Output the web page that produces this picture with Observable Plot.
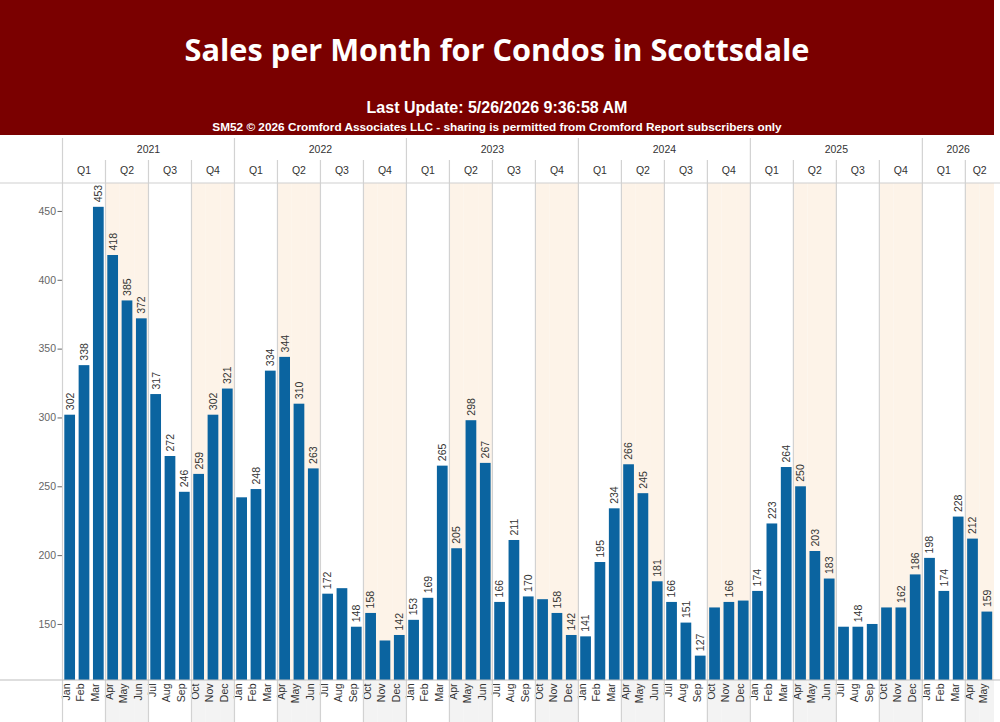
<!DOCTYPE html>
<html>
<head>
<meta charset="utf-8">
<script src="https://cdn.jsdelivr.net/npm/d3@7"></script>
<script src="https://cdn.jsdelivr.net/npm/@observablehq/plot@0.6"></script>
<style>
  body { margin: 0; background: #fff; width: 1000px; height: 722px; overflow: hidden; }
  #header { position: relative; width: 994px; height: 135px; background: #7a0000; color: #fff; }
  #header div { position: absolute; left: 0; width: 994px; text-align: center; white-space: nowrap; line-height: 1; }
  #header .title { top: 28px; font: 700 30.7px "Open Sans", "Liberation Sans", sans-serif; }
  #header .update { top: 99px; font: 700 16px "Liberation Sans", Arial, sans-serif; }
  #header .credit { top: 120px; font: 700 11.8px "Liberation Sans", Arial, sans-serif; }
  #chart svg { display: block; }
</style>
</head>
<body>
<div id="header">
  <div class="title">Sales per Month for Condos in Scottsdale</div>
  <div class="update">Last Update: 5/26/2026 9:36:58 AM</div>
  <div class="credit">SM52 © 2026 Cromford Associates LLC - sharing is permitted from Cromford Report subscribers only</div>
</div>
<div id="chart"></div>
<script>
// Monthly condo sales, Scottsdale
const years = [2021, 2022, 2023, 2024, 2025, 2026];
const monthNames = ["Jan", "Feb", "Mar", "Apr", "May", "Jun", "Jul", "Aug", "Sep", "Oct", "Nov", "Dec"];
const sales2021 = [302, 338, 453, 418, 385, 372, 317, 272, 246, 259, 302, 321];
const sales2022 = [242, 248, 334, 344, 310, 263, 172, 176, 148, 158, 138, 142];
const sales2023 = [153, 169, 265, 205, 298, 267, 166, 211, 170, 168, 158, 142];
const sales2024 = [141, 195, 234, 266, 245, 181, 166, 151, 127, 162, 166, 167];
const sales2025 = [174, 223, 264, 250, 203, 183, 148, 148, 150, 162, 162, 186];
const sales2026 = [198, 174, 228, 212, 159];
// months whose value is not printed above the bar
const unlabeledMonths = ["2022-Jan", "2022-Aug", "2022-Nov", "2023-Oct", "2024-Oct", "2024-Dec", "2025-Jul", "2025-Sep", "2025-Oct"];
const yTicks = [150, 200, 250, 300, 350, 400, 450];
const yMin = 109.3, yMax = 470.3;

const salesByYear = [sales2021, sales2022, sales2023, sales2024, sales2025, sales2026];
const rows = [];
years.forEach((year, yi) => {
  salesByYear[yi].forEach((value, mi) => {
    const key = `${year}-${monthNames[mi]}`;
    rows.push({
      key, year, mi,
      month: monthNames[mi],
      quarter: Math.floor(mi / 3) + 1,
      value,
      labeled: !unlabeledMonths.includes(key)
    });
  });
});

const font = '"Liberation Sans", Arial, sans-serif';
const fs = 10.5;
const barColor = "#0b64a0";
const shadeTop = "#fdf3e8";
const shadeBottom = "#f3f3f3";
const gridColor = "#d2d2d2";

const W = 1000, H = 587, mTop = 48, mBottom = 42;

const chart = Plot.plot({
  width: W,
  height: H,
  marginTop: mTop,
  marginRight: 6,
  marginBottom: mBottom,
  marginLeft: 62.5,
  x: { type: "band", domain: rows.map(d => d.key), padding: 0, round: false, axis: null },
  y: { domain: [yMin, yMax], axis: null },
  style: { fontFamily: font, fontSize: `${fs}px`, color: "#333", background: "transparent", overflow: "visible" },
  marks: [
    // Q2 and Q4 columns shaded
    Plot.cell(rows.filter(d => d.quarter % 2 === 0), { x: "key", fill: shadeTop, inset: 0 }),
    Plot.barY(rows, { x: "key", y1: yMin, y2: "value", fill: barColor, insetLeft: 1.8, insetRight: 1.8 }),
    Plot.axisY({ ticks: yTicks, tickSize: 5, tickPadding: 2, color: "#666", fontSize: fs, label: null }),
    Plot.text(rows.filter(d => d.labeled), {
      x: "key", y: "value", text: d => String(d.value),
      rotate: -90, textAnchor: "start", dy: -5, fill: "#333", fontSize: fs
    }),
    Plot.text(rows, {
      x: "key", text: "month", frameAnchor: "bottom",
      rotate: -90, textAnchor: "end", dy: 3, fill: "#333", fontSize: fs
    })
  ]
});

document.getElementById("chart").append(chart);

// Year / quarter header, grid dividers and footer shading, placed with the x scale
const xs = chart.scale("x");
const bw = xs.bandwidth;
const xl = k => xs.apply(k);
const svg = d3.select(chart);
const plotBottom = H - mBottom;

const under = svg.insert("g", "g");
under.selectAll("rect")
  .data(rows.filter(d => d.quarter % 2 === 0))
  .join("rect")
  .attr("x", d => xl(d.key))
  .attr("y", plotBottom)
  .attr("width", bw)
  .attr("height", mBottom)
  .attr("fill", shadeBottom);

const over = svg.append("g");
// quarter and year dividers
over.selectAll("line.div")
  .data(rows.filter(d => d.mi % 3 === 0))
  .join("line")
  .attr("x1", d => xl(d.key)).attr("x2", d => xl(d.key))
  .attr("y1", d => d.mi === 0 ? 3 : 25)
  .attr("y2", H)
  .attr("stroke", gridColor)
  .attr("stroke-width", 1.2);

// horizontal rules: under the header and along the baseline
over.append("line").attr("x1", 0).attr("x2", W).attr("y1", mTop).attr("y2", mTop)
  .attr("stroke", "#cfcfcf").attr("stroke-width", 1.2);
over.append("line").attr("x1", 0).attr("x2", W).attr("y1", plotBottom).attr("y2", plotBottom)
  .attr("stroke", "#bdbdbd").attr("stroke-width", 1.2);

// year labels
const yearSpans = d3.groups(rows, d => d.year).map(([year, ms]) => ({
  label: String(year),
  cx: (xl(ms[0].key) + xl(ms[ms.length - 1].key) + bw) / 2
}));
// quarter labels
const quarterSpans = d3.groups(rows, d => `${d.year}-Q${d.quarter}`).map(([k, ms]) => ({
  label: `Q${ms[0].quarter}`,
  cx: (xl(ms[0].key) + xl(ms[ms.length - 1].key) + bw) / 2
}));

over.selectAll("text.year")
  .data(yearSpans)
  .join("text")
  .attr("x", d => d.cx).attr("y", 14)
  .attr("text-anchor", "middle").attr("dy", "0.35em")
  .attr("fill", "#333").style("font", `${fs}px ${font}`)
  .text(d => d.label);

over.selectAll("text.quarter")
  .data(quarterSpans)
  .join("text")
  .attr("x", d => d.cx).attr("y", 35.5)
  .attr("text-anchor", "middle").attr("dy", "0.35em")
  .attr("fill", "#333").style("font", `${fs}px ${font}`)
  .text(d => d.label);
</script>
</body>
</html>
